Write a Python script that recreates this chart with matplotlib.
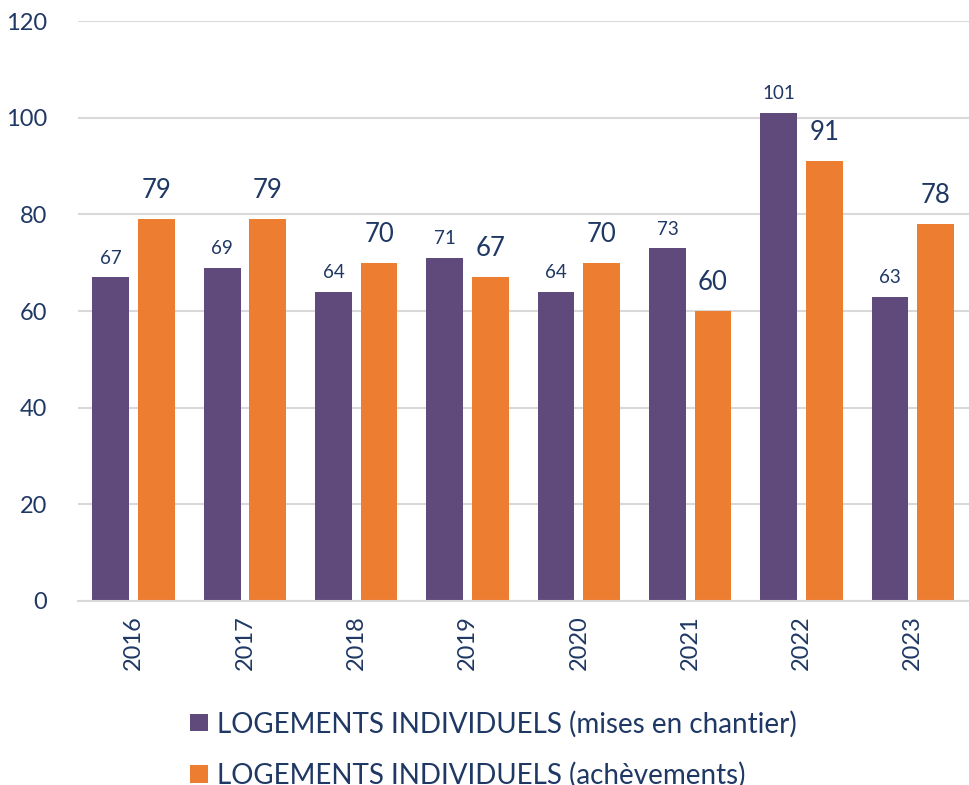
import matplotlib.pyplot as plt
import numpy as np

plt.rcParams['font.family'] = ['Lato', 'DejaVu Sans']

years = ['2016', '2017', '2018', '2019', '2020', '2021', '2022', '2023']
mises_en_chantier = [67, 69, 64, 71, 64, 73, 101, 63]
achevements = [79, 79, 70, 67, 70, 60, 91, 78]

purple = '#604A7B'
orange = '#ED7D31'
navy = '#1F3864'

fig = plt.figure(figsize=(9.69, 7.85), dpi=100)
ax = fig.add_axes([0.0805, 0.2344, 0.919, 0.7388])

x = np.arange(len(years))
w = 0.33
b1 = ax.bar(x - 0.205, mises_en_chantier, w, color=purple, zorder=3,
            label='LOGEMENTS INDIVIDUELS (mises en chantier)')
b2 = ax.bar(x + 0.205, achevements, w, color=orange, zorder=3,
            label='LOGEMENTS INDIVIDUELS (achèvements)')

# value labels
for rect, v in zip(b1, mises_en_chantier):
    ax.annotate(str(v), (rect.get_x() + rect.get_width() / 2, v),
                xytext=(0, 7.5), textcoords='offset points', ha='center',
                va='bottom', fontsize=13.5, color=navy)
for rect, v in zip(b2, achevements):
    ax.annotate(str(v), (rect.get_x() + rect.get_width() / 2, v),
                xytext=(0, 11.5), textcoords='offset points', ha='center',
                va='bottom', fontsize=18.5, color=navy)

ax.set_xlim(-0.5, len(years) - 0.5)
ax.set_ylim(0, 120)
ax.set_yticks(range(0, 121, 20))
ax.set_xticks(x)
ax.set_xticklabels(years, rotation=90)
ax.tick_params(axis='both', length=0, labelsize=17, labelcolor=navy)
ax.tick_params(axis='y', pad=22)
ax.tick_params(axis='x', pad=10)
ax.grid(axis='y', color='#D9D9D9', linewidth=1.5, zorder=0)
for s in ['top', 'right', 'left']:
    ax.spines[s].set_visible(False)
ax.spines['bottom'].set_color('#D9D9D9')
ax.spines['bottom'].set_linewidth(1.5)
ax.spines['bottom'].set_zorder(4)

# legend sits low, second row runs off the bottom like in the original
fig.legend(loc='upper left', bbox_to_anchor=(0.1847, 0.109), frameon=False,
           fontsize=20, labelcolor=navy, handlelength=0.65, handleheight=0.6,
           handletextpad=0.32, labelspacing=0.88, borderaxespad=0)

fig.savefig('out.png', dpi=100)
